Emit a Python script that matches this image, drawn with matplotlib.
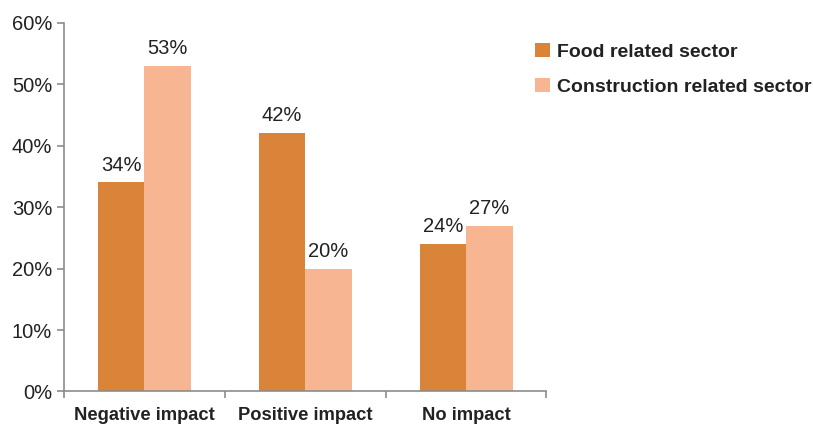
import matplotlib.pyplot as plt
import numpy as np

plt.rcParams['font.family'] = ['Liberation Sans', 'DejaVu Sans']

categories = ['Negative impact', 'Positive impact', 'No impact']
food = [34, 42, 24]
construction = [53, 20, 27]
series_names = ['Food related sector', 'Construction related sector']

dark = '#DA843A'
light = '#F8B592'
axis_grey = '#8C8C8C'
text_col = '#222222'

x = np.arange(len(categories))
w = 0.289

fig = plt.figure(figsize=(8.13, 4.24), dpi=100)
ax = fig.add_axes([0.0787, 0.0767, 0.5935, 0.8698])

b1 = ax.bar(x - w/2, [v/100 for v in food], w, color=dark, label=series_names[0])
b2 = ax.bar(x + w/2, [v/100 for v in construction], w, color=light, label=series_names[1])

for bars, vals in ((b1, food), (b2, construction)):
    for r, v in zip(bars, vals):
        ax.text(r.get_x() + r.get_width()/2, r.get_height() + 0.013, f'{v}%',
                ha='center', va='bottom', fontsize=14.5, color=text_col)

ax.set_xlim(-0.5, 2.5)
ax.set_ylim(0, 0.6)
ax.set_yticks(np.arange(0, 0.61, 0.1))
ax.set_yticklabels([f'{int(round(t*100))}%' for t in np.arange(0, 0.61, 0.1)],
                   fontsize=14.5, color=text_col)

# category boundary ticks, labels centred in between
ax.set_xticks([-0.5, 0.5, 1.5, 2.5])
ax.set_xticklabels([])
ax.set_xticks(x, minor=True)
ax.set_xticklabels(categories, minor=True, fontsize=13.2, fontweight='bold', color=text_col)
ax.tick_params(axis='x', which='minor', length=0, pad=11)
ax.tick_params(axis='both', which='major', length=5, color=axis_grey, width=1.2)

for s in ('top', 'right'):
    ax.spines[s].set_visible(False)
for s in ('left', 'bottom'):
    ax.spines[s].set_color(axis_grey)
    ax.spines[s].set_linewidth(1.2)

leg = fig.legend(loc='upper left', bbox_to_anchor=(535/813, 1 - 43/424), frameon=False,
                 borderpad=0, borderaxespad=0,
                 handlelength=0.77, handleheight=0.77, handletextpad=0.35,
                 labelspacing=0.85, prop={'size': 14, 'weight': 'bold'})
for t in leg.get_texts():
    t.set_color(text_col)

fig.savefig('out.png', dpi=100)
